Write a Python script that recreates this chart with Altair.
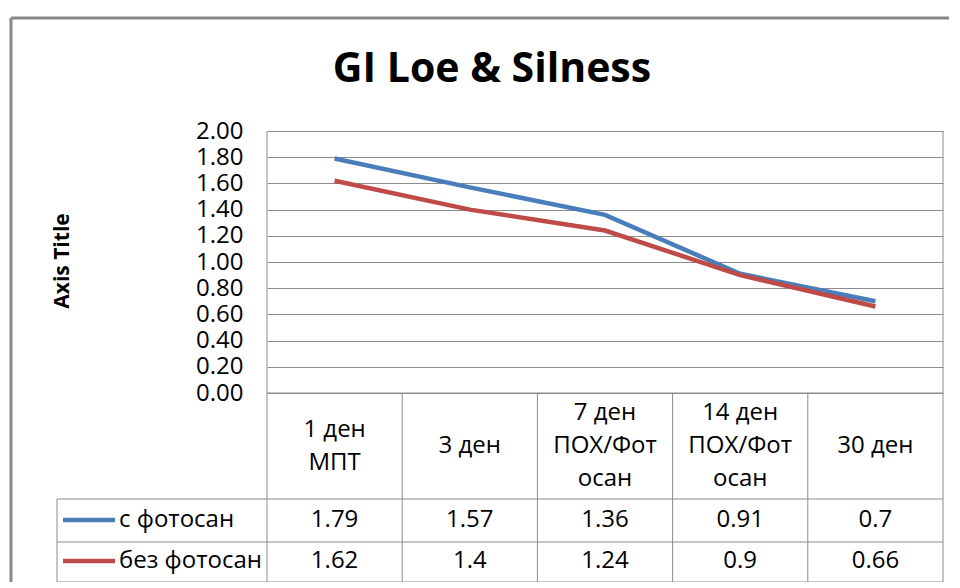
import altair as alt
import pandas as pd

# ---------------- data ----------------
categories = ["1 ден\nМПТ", "3 ден", "7 ден\nПОХ/Фот\nосан", "14 ден\nПОХ/Фот\nосан", "30 ден"]
series_names = ["с фотосан", "без фотосан"]
with_photosan = [1.79, 1.57, 1.36, 0.91, 0.7]
without_photosan = [1.62, 1.4, 1.24, 0.9, 0.66]
y_ticks = [0.0, 0.2, 0.4, 0.6, 0.8, 1.0, 1.2, 1.4, 1.6, 1.8, 2.0]
colors = ["#4A7EBB", "#BE4B48"]
title_text = "GI Loe & Silness"
axis_title_text = "Axis Title"

rows = []
for name, vals in zip(series_names, [with_photosan, without_photosan]):
    for c, v in zip(categories, vals):
        rows.append({"cat": c, "series": name, "value": v, "label": str(v)})
df = pd.DataFrame(rows)
one = pd.DataFrame({"k": [0]})

# ---------------- layout ----------------
W, H = 676, 262
FONT = "Open Sans"
GRID = "#8c8c8c"
header_y = 315
line_h = 33
row_y = [389, 430]
row_lines = [368, 411, 451]
legend_left = -210

xscale = alt.Scale(type="band", domain=categories, paddingInner=0, paddingOuter=0)
x_center = alt.X("cat:N", scale=xscale, axis=None, bandPosition=0.5)
x_start = alt.X("cat:N", scale=xscale, axis=None, bandPosition=0)

yaxis = alt.Axis(values=y_ticks, format=".2f", ticks=False, domain=False,
                 labelPadding=24, labelFont=FONT, labelFontSize=24,
                 labelColor="#000000", gridColor=GRID, gridWidth=1,
                 labelOverlap=False, title=None)
yenc = alt.Y("value:Q", scale=alt.Scale(domain=[0, 2], nice=False), axis=yaxis)

layers = []
# blue first, red on top as in the reference
for i, name in enumerate(series_names):
    sub = df[df["series"] == name]
    layers.append(alt.Chart(sub).mark_line(strokeWidth=4.5, color=colors[i]).encode(
        x=x_center, y=yenc))

# header texts, grouped by number of lines so each block is centred in its cell
groups = {}
for c in categories:
    groups.setdefault(c.count("\n") + 1, []).append(c)
for n, cats in groups.items():
    layers.append(alt.Chart(pd.DataFrame({"cat": cats})).mark_text(
        lineBreak="\n", font=FONT, fontSize=24, lineHeight=line_h, align="center",
        baseline="middle", color="#000000"
    ).encode(x=x_center, y=alt.value(header_y - (n - 1) * line_h / 2), text="cat:N"))

# inner vertical table lines
layers.append(alt.Chart(pd.DataFrame({"cat": categories[1:]})).mark_rule(color=GRID, strokeWidth=1).encode(
    x=x_start, y=alt.value(H), y2=alt.value(row_lines[-1])))
# outer vertical lines of plot/table
for xv in [0, W]:
    layers.append(alt.Chart(one).mark_rule(color=GRID, strokeWidth=1).encode(
        x=alt.value(xv), y=alt.value(0), y2=alt.value(row_lines[-1])))
# horizontal lines
layers.append(alt.Chart(one).mark_rule(color=GRID, strokeWidth=1).encode(
    x=alt.value(0), x2=alt.value(W), y=alt.value(H)))
for yv in row_lines:
    layers.append(alt.Chart(one).mark_rule(color=GRID, strokeWidth=1).encode(
        x=alt.value(legend_left), x2=alt.value(W), y=alt.value(yv)))
layers.append(alt.Chart(one).mark_rule(color=GRID, strokeWidth=1).encode(
    x=alt.value(legend_left), y=alt.value(row_lines[0]), y2=alt.value(row_lines[-1])))

# value rows + legend keys
for i, name in enumerate(series_names):
    sub = df[df["series"] == name]
    layers.append(alt.Chart(sub).mark_text(
        font=FONT, fontSize=24, align="center", baseline="middle", color="#000000"
    ).encode(x=x_center, y=alt.value(row_y[i]), text="label:N"))
    layers.append(alt.Chart(one).mark_rule(color=colors[i], strokeWidth=4.5).encode(
        x=alt.value(-204), x2=alt.value(-152), y=alt.value(row_y[i])))
    layers.append(alt.Chart(one).mark_text(
        font=FONT, fontSize=24, align="left", baseline="middle", color="#000000"
    ).encode(x=alt.value(-148), y=alt.value(row_y[i]), text=alt.value(name)))

# titles
layers.append(alt.Chart(one).mark_text(
    font=FONT, fontSize=41, fontWeight="bold", align="center", baseline="middle", color="#000000"
).encode(x=alt.value(225), y=alt.value(-61), text=alt.value(title_text)))
layers.append(alt.Chart(one).mark_text(
    font=FONT, fontSize=21, fontWeight="bold", align="center", baseline="middle",
    angle=270, color="#000000"
).encode(x=alt.value(-204), y=alt.value(130), text=alt.value(axis_title_text)))

# outer chart frame
layers.append(alt.Chart(one).mark_rule(color="#888888", strokeWidth=3).encode(
    x=alt.value(-256), x2=alt.value(W + 6), y=alt.value(-113)))
layers.append(alt.Chart(one).mark_rule(color="#888888", strokeWidth=3).encode(
    x=alt.value(-256), y=alt.value(-113), y2=alt.value(500)))

chart = alt.layer(*layers).properties(
    width=W, height=H,
    autosize=alt.AutoSizeParams(type="none"),
    padding={"left": 259, "top": 123, "right": 9, "bottom": 189},
    background="#ffffff",
).configure_view(strokeWidth=0)

chart.save("out.html", embed_options={"renderer": "svg", "actions": False})
